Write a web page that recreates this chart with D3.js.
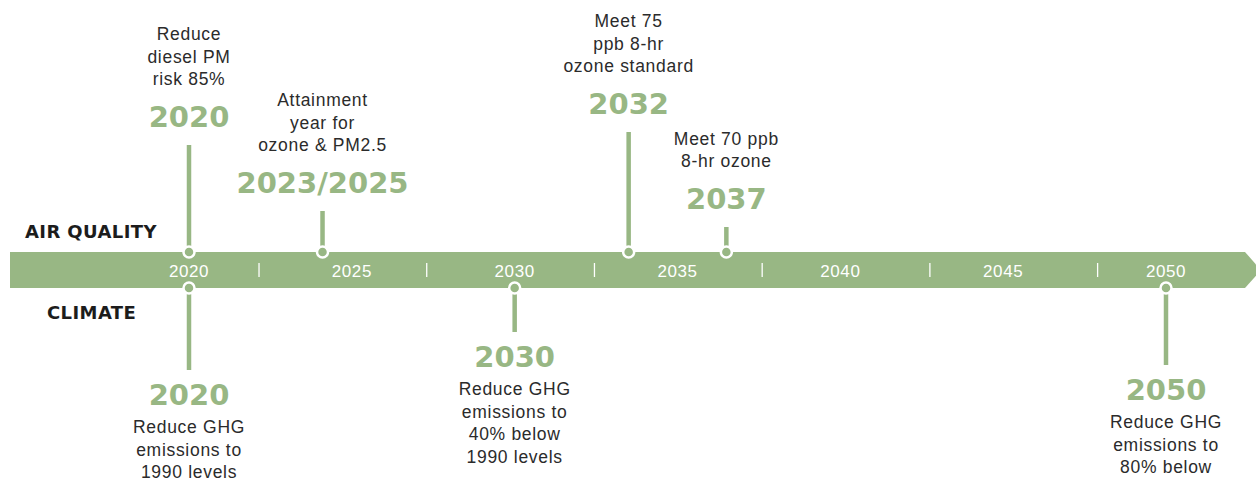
<!DOCTYPE html>
<html>
<head>
<meta charset="utf-8">
<script src="https://cdn.jsdelivr.net/npm/d3@7"></script>
<style>
	body { margin: 0; background: #fff; }
	text { font-family: "Liberation Sans", Arial, sans-serif; }
	.year { fill: #98b784; font-family: "DejaVu Sans", sans-serif; font-weight: bold; font-size: 29px; }
	.desc { fill: #2b2b2b; font-size: 17.5px; letter-spacing: 0.7px; }
	.tick { fill: #fff; font-size: 17px; letter-spacing: 0.6px; }
	.side { fill: #1c1c1c; font-family: "DejaVu Sans", sans-serif; font-weight: bold; font-size: 18px; letter-spacing: 0.4px; }
</style>
</head>
<body>
<svg width="1256" height="479" id="timeline"></svg>
<script>
	// timeline ticks
	var tickYears = [2020, 2025, 2030, 2035, 2040, 2045, 2050];
	var dividerYears = [2022.15, 2027.3, 2032.45, 2037.6, 2042.75, 2047.9];

	// air quality milestones (above the band)
	var airYears = [2020, 2024.1, 2033.5, 2036.5];
	var airLabels = ["2020", "2023/2025", "2032", "2037"];
	var airText = [
		["Reduce", "diesel PM", "risk 85%"],
		["Attainment", "year for", "ozone & PM2.5"],
		["Meet 75", "ppb 8-hr", "ozone standard"],
		["Meet 70 ppb", "8-hr ozone"]
	];

	// climate milestones (below the band)
	var climateYears = [2020, 2030, 2050];
	var climateLabels = ["2020", "2030", "2050"];
	var climateText = [
		["Reduce GHG", "emissions to", "1990 levels"],
		["Reduce GHG", "emissions to", "40% below", "1990 levels"],
		["Reduce GHG", "emissions to", "80% below"]
	];

	// layout only: stem lengths in px
	var airStem = [107, 41, 120, 25];
	var climateStem = [82, 44, 77];

	var green = "#98b784";
	var svg = d3.select("svg#timeline");

	var x = d3.scaleLinear()
		.domain([2020, 2050])
		.range([189, 1166]);

	var bandTop = 252, bandBottom = 288, bandMid = (bandTop + bandBottom) / 2;
	var lineH = 22.5;

	// the arrow band
	svg.append("path")
		.attr("d", "M10," + bandTop + " L1245," + bandTop + " L1261," + bandMid +
			" L1245," + bandBottom + " L10," + bandBottom + " Z")
		.attr("fill", green);

	svg.selectAll("line.divider")
		.data(dividerYears)
		.enter().append("line")
		.attr("class", "divider")
		.attr("x1", function(d) { return x(d); })
		.attr("x2", function(d) { return x(d); })
		.attr("y1", bandTop + 11)
		.attr("y2", bandBottom - 11)
		.attr("stroke", "#fff")
		.attr("stroke-width", 1.3);

	svg.selectAll("text.tick")
		.data(tickYears)
		.enter().append("text")
		.attr("class", "tick")
		.attr("x", function(d) { return x(d); })
		.attr("y", 277)
		.attr("text-anchor", "middle")
		.text(function(d) { return d; });

	// side labels
	svg.append("text").attr("class", "side").attr("x", 25).attr("y", 238).text("AIR QUALITY");
	svg.append("text").attr("class", "side").attr("x", 47).attr("y", 319).text("CLIMATE");

	// air quality
	var air = svg.selectAll("g.air")
		.data(airYears)
		.enter().append("g")
		.attr("class", "air")
		.attr("transform", function(d) { return "translate(" + x(d) + ",0)"; });

	air.append("line")
		.attr("y1", bandTop)
		.attr("y2", function(d, i) { return bandTop - airStem[i]; })
		.attr("stroke", green)
		.attr("stroke-width", 4.5);

	air.append("circle")
		.attr("cy", bandTop)
		.attr("r", 5.5)
		.attr("fill", green)
		.attr("stroke", "#fff")
		.attr("stroke-width", 2.5);

	air.append("text")
		.attr("class", "year")
		.attr("text-anchor", "middle")
		.attr("y", function(d, i) { return bandTop - airStem[i] - 18; })
		.text(function(d, i) { return airLabels[i]; });

	air.each(function(d, i) {
		var last = bandTop - airStem[i] - 18 - 42;
		var lines = airText[i];
		d3.select(this).selectAll("text.desc")
			.data(lines)
			.enter().append("text")
			.attr("class", "desc")
			.attr("text-anchor", "middle")
			.attr("y", function(t, j) { return last - (lines.length - 1 - j) * lineH; })
			.text(function(t) { return t; });
	});

	// climate
	var clim = svg.selectAll("g.clim")
		.data(climateYears)
		.enter().append("g")
		.attr("class", "clim")
		.attr("transform", function(d) { return "translate(" + x(d) + ",0)"; });

	clim.append("line")
		.attr("y1", bandBottom)
		.attr("y2", function(d, i) { return bandBottom + climateStem[i]; })
		.attr("stroke", green)
		.attr("stroke-width", 4.5);

	clim.append("circle")
		.attr("cy", bandBottom)
		.attr("r", 5.5)
		.attr("fill", green)
		.attr("stroke", "#fff")
		.attr("stroke-width", 2.5);

	clim.append("text")
		.attr("class", "year")
		.attr("text-anchor", "middle")
		.attr("y", function(d, i) { return bandBottom + climateStem[i] + 35; })
		.text(function(d, i) { return climateLabels[i]; });

	clim.each(function(d, i) {
		var first = bandBottom + climateStem[i] + 35 + 28;
		d3.select(this).selectAll("text.desc")
			.data(climateText[i])
			.enter().append("text")
			.attr("class", "desc")
			.attr("text-anchor", "middle")
			.attr("y", function(t, j) { return first + j * lineH; })
			.text(function(t) { return t; });
	});
</script>
</body>
</html>
